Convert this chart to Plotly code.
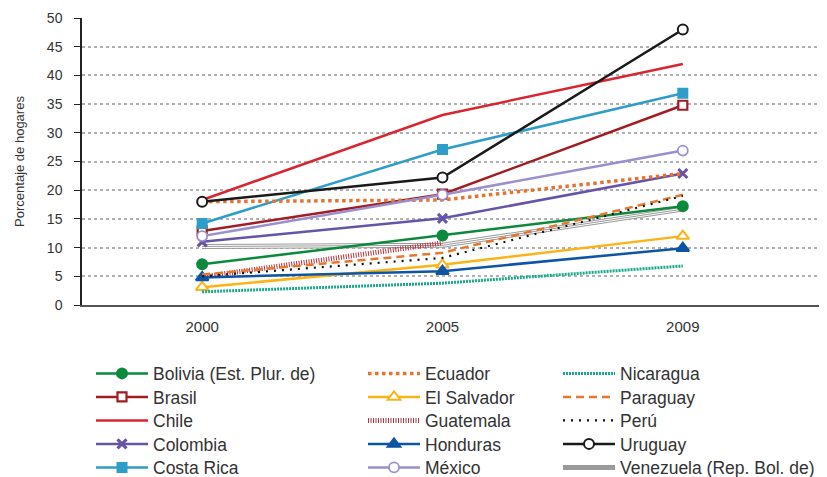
import plotly.graph_objects as go

years = ["2000", "2005", "2009"]

bolivia = [7.1, 12.1, 17.2]
brasil = [12.9, 19.3, 34.8]
chile = [18.3, 33.1, 42.0]
colombia = [11.0, 15.1, 22.9]
costa_rica = [14.2, 27.1, 36.9]
ecuador = [18.0, 18.3, 22.9]
el_salvador = [3.1, 7.0, 12.0]
guatemala = [4.9, 10.8, None]
honduras = [4.8, 5.9, 9.9]
mexico = [12.0, 19.2, 26.9]
nicaragua = [2.3, 3.8, 6.8]
paraguay = [5.3, 9.1, 19.2]
peru = [5.0, 8.2, 19.0]
uruguay = [18.0, 22.2, 48.0]
venezuela = [10.2, 10.4, 16.7]

y_ticks = [0, 5, 10, 15, 20, 25, 30, 35, 40, 45, 50]

# The page body adds an 8px margin, so the figure is laid out in a 819x469 box
OFF = 8
FIG_W, FIG_H = 827 - OFF, 477 - OFF
PLOT_L, PLOT_T, PLOT_W, PLOT_H = 82 - OFF, 18 - OFF, 745, 287
col_text_x = [153 - OFF, 425 - OFF, 620 - OFF]
row_center_y = [373 - OFF, 396.5 - OFF, 420 - OFF, 443.5 - OFF, 467 - OFF]
TEXT_OFFSET = 62
TOP_OFFSET = 17.5

fig = go.Figure()
legend_layouts = {}
legend_counter = [0]

legend_font = dict(family="Liberation Sans, Arial, sans-serif", size=17.5, color="#333333")


def new_legend(col, row):
    legend_counter[0] += 1
    n = legend_counter[0]
    key = "legend" if n == 1 else f"legend{n}"
    x = (col_text_x[col] - TEXT_OFFSET - PLOT_L) / PLOT_W
    y = (PLOT_T + PLOT_H - (row_center_y[row] - TOP_OFFSET)) / PLOT_H
    legend_layouts[key] = dict(
        x=x, y=y, xanchor="left", yanchor="top", orientation="v",
        font=legend_font, bgcolor="rgba(0,0,0,0)", itemwidth=52,
        borderwidth=0,
    )
    return key


def add(name, vals, color, col, row, width=2.5, dash="solid", symbol=None,
        msize=9, mfill=None, mline=2):
    mode = "lines+markers" if symbol else "lines"
    marker = None
    if symbol:
        marker = dict(symbol=symbol, size=msize, color=mfill or color,
                      line=dict(color=color, width=mline))
    fig.add_trace(go.Scatter(
        x=years, y=vals, name=name, mode=mode,
        line=dict(color=color, width=width, dash=dash),
        marker=marker, legend=new_legend(col, row), connectgaps=False,
    ))


# Venezuela (triple thin line look) drawn first so others lie above
ven_leg = new_legend(2, 4)
fig.add_trace(go.Scatter(x=years, y=venezuela, mode="lines", name="Venezuela (Rep. Bol. de)",
                         line=dict(color="#9a9a9a", width=5), legend=ven_leg))
fig.add_trace(go.Scatter(x=years, y=venezuela, mode="lines", showlegend=False,
                         line=dict(color="#ffffff", width=3), hoverinfo="skip"))
fig.add_trace(go.Scatter(x=years, y=venezuela, mode="lines", showlegend=False,
                         line=dict(color="#9a9a9a", width=1), hoverinfo="skip"))

WHITE = "#ffffff"
# column 1
add("Bolivia (Est. Plur. de)", bolivia, "#0b8a3e", 0, 0, symbol="circle", msize=10)
add("Brasil", brasil, "#a11d22", 0, 1, symbol="square", msize=9, mfill=WHITE, mline=2.2)
add("Chile", chile, "#d9252f", 0, 2)
add("Colombia", colombia, "#6654a8", 0, 3, symbol="x-thin-open", msize=9, mline=3)
add("Costa Rica", costa_rica, "#2e9ec8", 0, 4, symbol="square", msize=9)
# column 2
add("Ecuador", ecuador, "#e8732f", 1, 0, width=3.5, dash="dot")
add("El Salvador", el_salvador, "#fbb416", 1, 1, symbol="triangle-up", msize=11, mfill=WHITE)
add("Guatemala", guatemala, "#b8323c", 1, 2, width=5, dash="1px,1.5px")
add("Honduras", honduras, "#0d55a4", 1, 3, symbol="triangle-up", msize=11)
add("México", mexico, "#9b8fcd", 1, 4, symbol="circle", msize=10, mfill=WHITE, mline=1.8)
# column 3
add("Nicaragua", nicaragua, "#1aa98b", 2, 0, width=3, dash="2px,1px")
add("Paraguay", paraguay, "#e8772e", 2, 1, width=2.5, dash="8px,5px")
add("Perú", peru, "#111111", 2, 2, width=2.2, dash="2px,6px")
add("Uruguay", uruguay, "#1a1a1a", 2, 3, symbol="circle", msize=10, mfill=WHITE)

fig.update_layout(
    width=FIG_W, height=FIG_H,
    margin=dict(l=PLOT_L, r=FIG_W - PLOT_L - PLOT_W, t=PLOT_T, b=FIG_H - PLOT_T - PLOT_H,
                autoexpand=False),
    plot_bgcolor="#ffffff", paper_bgcolor="#ffffff",
    font=dict(family="Liberation Sans, Arial, sans-serif", color="#333333"),
    showlegend=True,
    xaxis=dict(
        type="category", range=[-0.5, 2.6], automargin=False,
        showgrid=False, zeroline=False,
        showline=True, linecolor="#555555", linewidth=2,
        ticks="", ticklabelstandoff=7,
        tickfont=dict(size=15, color="#333333"),
    ),
    yaxis=dict(
        range=[0, 50], tickvals=y_ticks, automargin=False,
        showgrid=True, gridcolor="#b0b0b0", griddash="dot", gridwidth=1.5,
        zeroline=False, showline=True, linecolor="#222222", linewidth=1.5,
        ticks="outside", ticklen=6, tickcolor="#222222",
        ticklabelstandoff=9,
        tickfont=dict(size=14, color="#333333"),
        title=dict(text="Porcentaje de hogares", font=dict(size=13, color="#333333"), standoff=19),
    ),
)
fig.update_layout(**legend_layouts)

fig.write_html("out.html")
